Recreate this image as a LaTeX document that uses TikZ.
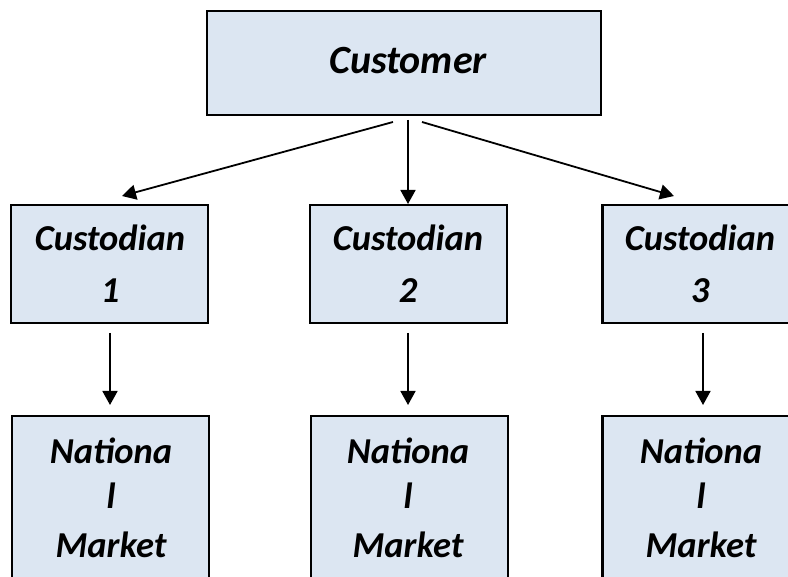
\documentclass[tikz,border=0pt]{standalone}
\usepackage{fontspec}
\setmainfont{Carlito}
\usetikzlibrary{arrows.meta}
\definecolor{boxfill}{HTML}{DCE6F2}
\tikzset{
  box/.style={draw=black, line width=2.2pt, fill=boxfill, rectangle, inner sep=0pt},
  lbl/.style={anchor=base, inner sep=0pt, font=\fontsize{36.5}{40}\selectfont\bfseries\itshape},
  conn/.style={line width=1.8pt, -{Triangle[length=14pt,width=15pt]}},
}
\begin{document}
\begin{tikzpicture}[x=1pt,y=-1pt]
\useasboundingbox (0,0) rectangle (788,577);
\clip (0,0) rectangle (788,577);
% boxes
\node[box, minimum width=394pt, minimum height=104pt] (cust) at (404,63) {};
\node[box, minimum width=197pt, minimum height=118pt] (c1) at (109.5,264) {};
\node[box, minimum width=197pt, minimum height=118pt] (c2) at (408.5,264) {};
\node[box, minimum width=197pt, minimum height=118pt] (c3) at (701,264) {};
\node[box, minimum width=197pt, minimum height=190pt] (n1) at (110.5,511) {};
\node[box, minimum width=197pt, minimum height=190pt] (n2) at (409.5,511) {};
\node[box, minimum width=197pt, minimum height=190pt] (n3) at (701,511) {};
% labels
\node[lbl, font=\fontsize{40}{42}\selectfont\bfseries\itshape] (tcust) at (408,74) {Customer};
\node[lbl] (tc1a) at (110,251) {Custodian};
\node[lbl] (tc1b) at (110,303) {1};
\node[lbl] (tc2a) at (408,251) {Custodian};
\node[lbl] (tc2b) at (408,303) {2};
\node[lbl] (tc3a) at (700,251) {Custodian};
\node[lbl] (tc3b) at (700,303) {3};
\node[lbl] (tn1a) at (111,464) {Nationa};
\node[lbl] (tn1b) at (111,508) {l};
\node[lbl] (tn1c) at (111,558) {Market};
\node[lbl] (tn2a) at (408,464) {Nationa};
\node[lbl] (tn2b) at (408,508) {l};
\node[lbl] (tn2c) at (408,558) {Market};
\node[lbl] (tn3a) at (701,464) {Nationa};
\node[lbl] (tn3b) at (701,508) {l};
\node[lbl] (tn3c) at (701,558) {Market};
% connector endpoints
\coordinate (s1) at (393,122);
\coordinate (s2) at (408,120);
\coordinate (s3) at (422,122);
\coordinate (e1) at (122,196);
\coordinate (e2) at (408,204);
\coordinate (e3) at (674,196);
\coordinate (d1s) at (110,333);
\coordinate (d1e) at (110,405);
\coordinate (d2s) at (408,333);
\coordinate (d2e) at (408,405);
\coordinate (d3s) at (703,333);
\coordinate (d3e) at (703,405);
% connectors
\draw[conn] (s1) -- (e1);
\draw[conn] (s2) -- (e2);
\draw[conn] (s3) -- (e3);
\draw[conn] (d1s) -- (d1e);
\draw[conn] (d2s) -- (d2e);
\draw[conn] (d3s) -- (d3e);
\end{tikzpicture}
\end{document}
